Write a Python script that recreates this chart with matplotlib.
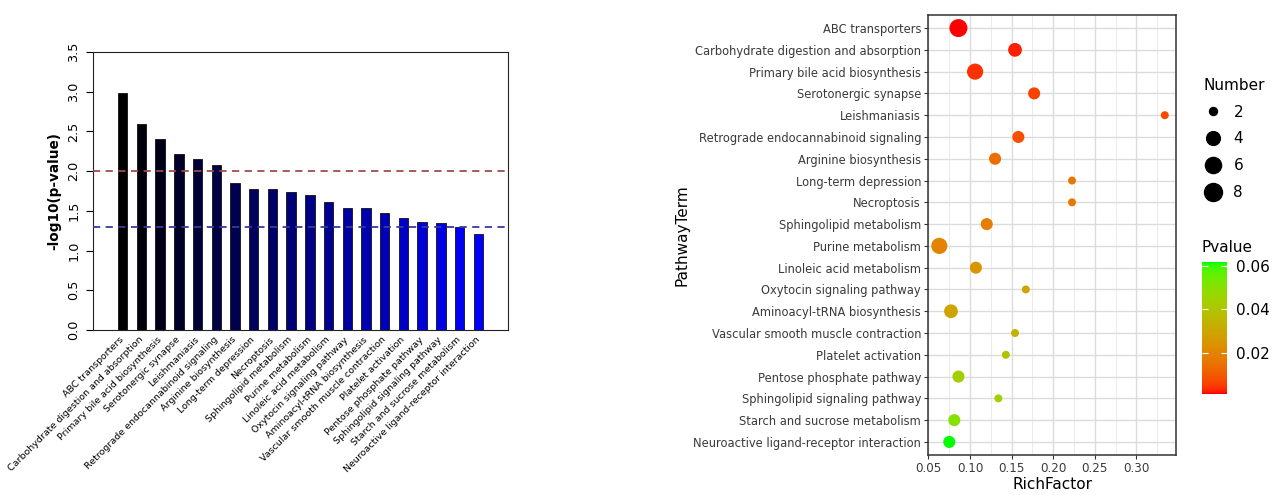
import numpy as np
import matplotlib
matplotlib.use("Agg")
import matplotlib.pyplot as plt
from matplotlib.colors import ListedColormap, Normalize
from matplotlib.lines import Line2D

# KEGG pathways, ordered by significance
pathways = [
    "ABC transporters",
    "Carbohydrate digestion and absorption",
    "Primary bile acid biosynthesis",
    "Serotonergic synapse",
    "Leishmaniasis",
    "Retrograde endocannabinoid signaling",
    "Arginine biosynthesis",
    "Long-term depression",
    "Necroptosis",
    "Sphingolipid metabolism",
    "Purine metabolism",
    "Linoleic acid metabolism",
    "Oxytocin signaling pathway",
    "Aminoacyl-tRNA biosynthesis",
    "Vascular smooth muscle contraction",
    "Platelet activation",
    "Pentose phosphate pathway",
    "Sphingolipid signaling pathway",
    "Starch and sucrose metabolism",
    "Neuroactive ligand-receptor interaction",
]
neg_log10_p = [2.98, 2.60, 2.41, 2.22, 2.15, 2.08, 1.85, 1.78, 1.78, 1.74,
               1.70, 1.61, 1.54, 1.53, 1.47, 1.41, 1.36, 1.35, 1.30, 1.21]
rich_factor = [0.086, 0.154, 0.106, 0.177, 0.334, 0.158, 0.130, 0.2225,
               0.2225, 0.120, 0.063, 0.107, 0.167, 0.077, 0.154, 0.143,
               0.086, 0.134, 0.081, 0.075]
gene_number = [8, 4, 6, 3, 2, 3, 3, 2, 2, 3, 6, 3, 2, 4, 2, 2, 3, 2, 3, 3]
size_breaks = [2, 4, 6, 8]
pvalue_ticks = [0.02, 0.04, 0.06]

WHITE = np.array([0.95047, 1.0, 1.08883])
M_RGB2XYZ = np.array([[0.4124, 0.3576, 0.1805],
                      [0.2126, 0.7152, 0.0722],
                      [0.0193, 0.1192, 0.9505]])


def srgb_to_lab(rgb):
    """sRGB (0-1) -> CIE Lab"""
    rgb = np.asarray(rgb, float)
    lin = np.where(rgb <= 0.04045, rgb / 12.92, ((rgb + 0.055) / 1.055) ** 2.4)
    t = (M_RGB2XYZ @ lin) / WHITE
    d = 6 / 29
    f = np.where(t > d ** 3, np.cbrt(t), t / (3 * d ** 2) + 4 / 29)
    return np.array([116 * f[1] - 16, 500 * (f[0] - f[1]), 200 * (f[1] - f[2])])


def lab_to_srgb(lab):
    """CIE Lab -> sRGB (0-1)"""
    L, a, b = lab
    fy = (L + 16) / 116
    f = np.array([fy + a / 500, fy, fy - b / 200])
    d = 6 / 29
    t = np.where(f > d, f ** 3, 3 * d ** 2 * (f - 4 / 29))
    lin = np.clip(np.linalg.inv(M_RGB2XYZ) @ (t * WHITE), 0, 1)
    rgb = np.where(lin <= 0.0031308, 12.92 * lin, 1.055 * lin ** (1 / 2.4) - 0.055)
    return np.clip(rgb, 0, 1)


def red_green_cmap(n=256):
    """red -> green gradient interpolated in Lab space"""
    lo = srgb_to_lab([1, 0, 0])
    hi = srgb_to_lab([0, 1, 0])
    cols = [lab_to_srgb(lo + (hi - lo) * k) for k in np.linspace(0, 1, n)]
    return ListedColormap(cols)


def dot_diameter(n):
    """bubble diameter in points for a gene count"""
    px = 8 + 10 * np.sqrt((np.asarray(n, float) - 2) / 6)
    return px * 0.72


def bar_panel(fig):
    ax = fig.add_axes([0.0727, 0.3333, 0.3245, 0.5616])
    x = np.arange(len(pathways))
    # black -> blue ramp across the bars
    colors = [(0, 0, k) for k in np.linspace(0, 1, len(pathways))]
    ax.bar(x, neg_log10_p, width=0.5, color=colors, edgecolor="#111111",
           linewidth=0.6, zorder=2)
    ax.axhline(2.0, color="#a04c4c", lw=1.3, ls=(0, (4, 3)), zorder=3)
    ax.axhline(-np.log10(0.05), color="#3a3aa0", lw=1.3, ls=(0, (4, 3)), zorder=3)

    ax.set_xlim(-1.59, len(pathways) - 1 + 1.59)
    ax.set_ylim(0, 3.5)
    ax.set_yticks(np.arange(0, 3.51, 0.5))
    ax.set_yticklabels([f"{v:.1f}" for v in np.arange(0, 3.51, 0.5)],
                       rotation=90, va="center", fontsize=9.2)
    ax.tick_params(axis="y", length=5, width=0.8, pad=4)
    ax.set_xticks(x)
    ax.set_xticklabels(pathways, rotation=45, ha="right", va="center",
                       rotation_mode="anchor", fontsize=6.8)
    ax.tick_params(axis="x", length=0, pad=6)
    ax.set_ylabel("-log10(p-value)", fontsize=9.8, fontweight="bold")
    ax.yaxis.set_label_coords(-0.077, 0.5)
    for sp in ax.spines.values():
        sp.set_linewidth(0.8)
        sp.set_color("#222222")


def bubble_panel(fig):
    ax = fig.add_axes([0.7256, 0.0808, 0.1939, 0.8889])
    y = np.arange(len(pathways))
    pvals = 10 ** (-np.asarray(neg_log10_p))
    cmap = red_green_cmap()
    norm = Normalize(vmin=pvals.min(), vmax=pvals.max())

    ax.scatter(rich_factor, y, s=dot_diameter(gene_number) ** 2,
               c=pvals, cmap=cmap, norm=norm, linewidths=0, zorder=3)

    # ggplot-like limits: 5% padding on x, 0.6 on the discrete axis
    rf = np.asarray(rich_factor)
    span = rf.max() - rf.min()
    ax.set_xlim(rf.min() - 0.05 * span, rf.max() + 0.05 * span)
    ax.set_ylim(len(pathways) - 1 + 0.6, -0.6)
    ax.set_yticks(y)
    ax.set_yticklabels(pathways, fontsize=8.3, color="#3a3a3a")
    ax.set_xticks(np.arange(0.05, 0.31, 0.05))
    ax.set_xticklabels([f"{v:.2f}" for v in np.arange(0.05, 0.31, 0.05)],
                       fontsize=8.6, color="#3a3a3a")
    ax.set_xticks(np.arange(0.075, 0.35, 0.05), minor=True)
    ax.tick_params(axis="both", which="major", length=3, width=0.8,
                   color="#333333", pad=2)
    ax.tick_params(axis="x", which="minor", length=0)
    ax.grid(True, which="major", color="#DCDCDC", lw=1.0, zorder=0)
    ax.grid(True, which="minor", axis="x", color="#E8E8E8", lw=0.6, zorder=0)
    ax.set_axisbelow(True)
    for sp in ax.spines.values():
        sp.set_color("#333333")
        sp.set_linewidth(1.1)
    ax.set_xlabel("RichFactor", fontsize=11)
    ax.xaxis.set_label_coords(0.5, -0.05)
    ax.set_ylabel("PathwayTerm", fontsize=11)
    ax.yaxis.set_label_coords(-0.96, 0.5)

    # size legend
    handles = [Line2D([], [], marker="o", ls="none", color="black",
                      markersize=dot_diameter(n)) for n in size_breaks]
    fig.legend(handles, [str(n) for n in size_breaks], title="Number",
               loc="upper left", bbox_to_anchor=(1196 / 1279, 1 - 70 / 495),
               frameon=False, fontsize=11, title_fontsize=11,
               alignment="left", labelspacing=0.78, handletextpad=0.75,
               borderpad=0, handlelength=1.2)

    # colour bar
    cax = fig.add_axes([1201.7 / 1279, 1 - 394 / 495, 25.6 / 1279, 132 / 495])
    sm = plt.cm.ScalarMappable(norm=norm, cmap=cmap)
    cb = fig.colorbar(sm, cax=cax, ticks=pvalue_ticks)
    cb.outline.set_visible(False)
    cb.ax.set_yticklabels([f"{t:.2f}" for t in pvalue_ticks], fontsize=11)
    cax.tick_params(axis="y", direction="in", left=True, right=True,
                    color="white", length=4, width=0.8, pad=6)
    cax.set_title("Pvalue", loc="left", fontsize=11, pad=7)


def main():
    """Entry point of the programm"""
    fig = plt.figure(figsize=(12.79, 4.95), dpi=100)
    bar_panel(fig)
    bubble_panel(fig)
    fig.savefig("out.png", dpi=100)


if __name__ == "__main__":
    main()
